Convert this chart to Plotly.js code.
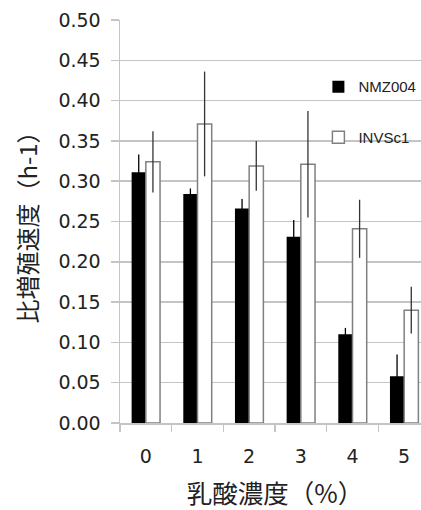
<!DOCTYPE html>
<html>
<head>
<meta charset="utf-8">
<script src="https://cdn.plot.ly/plotly-3.0.1.min.js"></script>
<style>
html,body{margin:0;padding:0;overflow:hidden;background:#fff;width:421px;height:510px;}
#chart{width:432px;height:510px;}
</style>
</head>
<body>
<div id="chart"></div>
<script>
const categories = ['0', '1', '2', '3', '4', '5'];
const nmz004 = [0.311, 0.284, 0.266, 0.231, 0.110, 0.058];
const nmz004Err = [0.022, 0.007, 0.012, 0.021, 0.008, 0.027];
const invsc1 = [0.324, 0.371, 0.319, 0.321, 0.241, 0.140];
const invsc1Err = [0.038, 0.065, 0.031, 0.066, 0.036, 0.029];
const yTickVals = [0, 0.05, 0.10, 0.15, 0.20, 0.25, 0.30, 0.35, 0.40, 0.45, 0.50];

const gridCol = '#c4c4c4';
const tickFont = {family: 'DejaVu Sans, sans-serif', size: 19, color: '#222'};
const cjkFont = {family: 'Noto Sans CJK JP, sans-serif', size: 24, color: '#222'};
const cjkFontX = {family: 'Noto Sans CJK JP, sans-serif', size: 25.5, color: '#222'};

const traces = [
  {
    type: 'bar', name: 'NMZ004', x: categories, y: nmz004,
    marker: {color: '#000000', line: {color: '#000000', width: 0}},
    error_y: {type: 'data', array: nmz004Err, visible: true, color: '#000', thickness: 1.3, width: 0},
    legendgroup: 'a'
  },
  {
    type: 'bar', name: 'INVSc1', x: categories, y: invsc1,
    marker: {color: '#ffffff', line: {color: '#808080', width: 1.5}},
    error_y: {type: 'data', array: invsc1Err, visible: true, color: '#333', thickness: 1.3, width: 0},
    legendgroup: 'b'
  }
];

const layout = {
  width: 432, height: 510,
  margin: {l: 120, r: 2, t: 20, b: 87},
  paper_bgcolor: '#fff', plot_bgcolor: '#fff',
  barmode: 'group', bargap: 0.45, bargroupgap: 0,
  showlegend: true,
  legend: {
    x: 0.64, y: 0.875, xanchor: 'left', yanchor: 'top',
    font: {family: 'Liberation Sans, sans-serif', size: 15, color: '#222'},
    tracegroupgap: 28, bgcolor: 'rgba(0,0,0,0)', traceorder: 'grouped'
  },
  xaxis: {
    type: 'category', categoryarray: categories,
    showgrid: false, zeroline: false,
    showline: true, linecolor: gridCol, linewidth: 1.5,
    ticks: 'outside', tickson: 'boundaries', ticklen: 7, tickcolor: gridCol, tickwidth: 1.5,
    tickfont: tickFont, ticklabelstandoff: 16,
    automargin: true,
    title: {text: '乳酸濃度（%）', font: cjkFontX, standoff: 22}
  },
  yaxis: {
    range: [0, 0.5], tickvals: yTickVals, tickformat: '.2f',
    showgrid: true, gridcolor: gridCol, gridwidth: 1.5, zeroline: false,
    showline: true, linecolor: gridCol, linewidth: 1.5,
    ticks: 'outside', ticklen: 8, tickcolor: gridCol, tickwidth: 1.5,
    tickfont: tickFont, ticklabelstandoff: 6,
    automargin: true,
    title: {text: '比増殖速度（h-1）', font: cjkFont, standoff: 14}
  }
};

Plotly.newPlot('chart', traces, layout, {displayModeBar: false, staticPlot: true});
</script>
</body>
</html>
